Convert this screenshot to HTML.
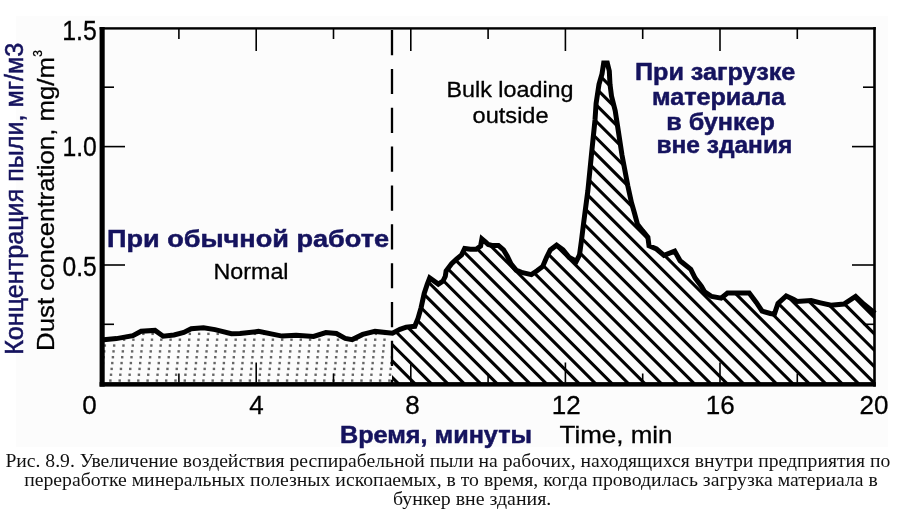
<!DOCTYPE html>
<html><head><meta charset="utf-8"><title>Dust concentration chart</title>
<style>html,body{margin:0;padding:0;background:#ffffff;}svg{display:block;}</style></head>
<body>
<svg width="913" height="512" viewBox="0 0 913 512">
<rect width="913" height="512" fill="#ffffff"/>
<rect x="16" y="16" width="872" height="431" fill="#fcfcfc"/>
<defs>
<clipPath id="cd"><polygon points="101.0,340.1 116.4,338.6 132.9,335.7 141.1,331.2 155.0,330.4 163.2,336.2 174.0,335.0 183.8,332.4 191.2,328.7 203.5,327.7 215.0,329.6 231.4,333.7 240.0,333.5 258.4,331.4 282.1,336.1 296.1,335.2 313.6,336.5 325.9,332.6 336.4,333.5 345.2,338.4 352.2,339.6 362.7,334.4 375.0,331.4 392.0,333.2 392.0,384.0 101.0,384.0"/></clipPath>
<clipPath id="ch"><polygon points="392.0,333.2 392.5,333.3 400.0,329.4 406.2,327.1 414.8,326.3 418.0,318.5 421.1,307.6 424.2,293.5 427.3,284.1 429.7,277.9 438.3,284.1 443.0,281.0 445.3,276.3 446.1,270.9 451.6,263.8 456.5,259.2 461.6,254.9 464.7,248.5 470.5,249.2 476.2,249.2 480.6,246.0 481.9,239.0 485.7,242.2 488.2,244.5 492.0,245.4 498.4,245.4 503.5,249.8 507.3,256.2 511.0,263.8 516.1,270.1 522.5,272.7 531.4,274.6 537.0,270.7 542.7,266.4 546.5,257.5 550.3,249.9 556.6,245.2 563.0,249.9 569.3,257.5 576.3,261.3 579.5,255.0 581.4,241.0 583.6,223.2 587.9,190.4 591.4,155.2 595.0,120.0 596.1,103.4 599.0,84.3 602.0,74.0 603.7,63.0 607.3,63.0 609.3,71.0 610.0,84.3 611.5,96.0 615.2,110.7 617.4,125.0 622.0,155.2 627.8,185.7 631.5,202.7 634.5,213.2 637.5,224.3 642.5,230.7 647.9,237.2 649.0,245.7 656.5,249.0 664.0,255.4 674.7,251.1 680.1,260.8 690.8,269.4 695.1,278.0 701.5,286.5 704.7,291.9 711.7,296.5 721.1,298.2 727.5,293.0 735.2,293.0 749.2,293.0 756.3,302.4 762.1,311.1 770.3,313.5 774.4,314.1 778.0,303.5 786.2,295.9 793.8,299.5 797.0,301.4 811.1,300.6 820.5,302.9 831.0,305.3 843.9,304.1 855.6,296.5 863.9,304.3 875.0,313.3 875.0,384.0 392.0,384.0"/></clipPath>
</defs>
<g clip-path="url(#cd)" fill="#666"><rect x="106.82" y="315.14" width="2.4" height="2.4"/><rect x="116.12" y="315.14" width="2.4" height="2.4"/><rect x="125.42" y="315.14" width="2.4" height="2.4"/><rect x="134.72" y="315.14" width="2.4" height="2.4"/><rect x="144.02" y="315.14" width="2.4" height="2.4"/><rect x="153.32" y="315.14" width="2.4" height="2.4"/><rect x="162.62" y="315.14" width="2.4" height="2.4"/><rect x="171.92" y="315.14" width="2.4" height="2.4"/><rect x="181.22" y="315.14" width="2.4" height="2.4"/><rect x="190.52" y="315.14" width="2.4" height="2.4"/><rect x="199.82" y="315.14" width="2.4" height="2.4"/><rect x="209.12" y="315.14" width="2.4" height="2.4"/><rect x="218.42" y="315.14" width="2.4" height="2.4"/><rect x="227.72" y="315.14" width="2.4" height="2.4"/><rect x="237.02" y="315.14" width="2.4" height="2.4"/><rect x="246.32" y="315.14" width="2.4" height="2.4"/><rect x="255.62" y="315.14" width="2.4" height="2.4"/><rect x="264.92" y="315.14" width="2.4" height="2.4"/><rect x="274.22" y="315.14" width="2.4" height="2.4"/><rect x="283.52" y="315.14" width="2.4" height="2.4"/><rect x="292.82" y="315.14" width="2.4" height="2.4"/><rect x="302.12" y="315.14" width="2.4" height="2.4"/><rect x="311.42" y="315.14" width="2.4" height="2.4"/><rect x="320.72" y="315.14" width="2.4" height="2.4"/><rect x="330.02" y="315.14" width="2.4" height="2.4"/><rect x="339.32" y="315.14" width="2.4" height="2.4"/><rect x="348.62" y="315.14" width="2.4" height="2.4"/><rect x="357.92" y="315.14" width="2.4" height="2.4"/><rect x="367.22" y="315.14" width="2.4" height="2.4"/><rect x="376.52" y="315.14" width="2.4" height="2.4"/><rect x="385.82" y="315.14" width="2.4" height="2.4"/><rect x="106.19" y="320.98" width="2.4" height="2.4"/><rect x="115.49" y="320.98" width="2.4" height="2.4"/><rect x="124.79" y="320.98" width="2.4" height="2.4"/><rect x="134.09" y="320.98" width="2.4" height="2.4"/><rect x="143.39" y="320.98" width="2.4" height="2.4"/><rect x="152.69" y="320.98" width="2.4" height="2.4"/><rect x="161.99" y="320.98" width="2.4" height="2.4"/><rect x="171.29" y="320.98" width="2.4" height="2.4"/><rect x="180.59" y="320.98" width="2.4" height="2.4"/><rect x="189.89" y="320.98" width="2.4" height="2.4"/><rect x="199.19" y="320.98" width="2.4" height="2.4"/><rect x="208.49" y="320.98" width="2.4" height="2.4"/><rect x="217.79" y="320.98" width="2.4" height="2.4"/><rect x="227.09" y="320.98" width="2.4" height="2.4"/><rect x="236.39" y="320.98" width="2.4" height="2.4"/><rect x="245.69" y="320.98" width="2.4" height="2.4"/><rect x="254.99" y="320.98" width="2.4" height="2.4"/><rect x="264.29" y="320.98" width="2.4" height="2.4"/><rect x="273.59" y="320.98" width="2.4" height="2.4"/><rect x="282.89" y="320.98" width="2.4" height="2.4"/><rect x="292.19" y="320.98" width="2.4" height="2.4"/><rect x="301.49" y="320.98" width="2.4" height="2.4"/><rect x="310.79" y="320.98" width="2.4" height="2.4"/><rect x="320.09" y="320.98" width="2.4" height="2.4"/><rect x="329.39" y="320.98" width="2.4" height="2.4"/><rect x="338.69" y="320.98" width="2.4" height="2.4"/><rect x="347.99" y="320.98" width="2.4" height="2.4"/><rect x="357.29" y="320.98" width="2.4" height="2.4"/><rect x="366.59" y="320.98" width="2.4" height="2.4"/><rect x="375.89" y="320.98" width="2.4" height="2.4"/><rect x="385.19" y="320.98" width="2.4" height="2.4"/><rect x="105.56" y="326.82" width="2.4" height="2.4"/><rect x="114.86" y="326.82" width="2.4" height="2.4"/><rect x="124.16" y="326.82" width="2.4" height="2.4"/><rect x="133.46" y="326.82" width="2.4" height="2.4"/><rect x="142.76" y="326.82" width="2.4" height="2.4"/><rect x="152.06" y="326.82" width="2.4" height="2.4"/><rect x="161.36" y="326.82" width="2.4" height="2.4"/><rect x="170.66" y="326.82" width="2.4" height="2.4"/><rect x="179.96" y="326.82" width="2.4" height="2.4"/><rect x="189.26" y="326.82" width="2.4" height="2.4"/><rect x="198.56" y="326.82" width="2.4" height="2.4"/><rect x="207.86" y="326.82" width="2.4" height="2.4"/><rect x="217.16" y="326.82" width="2.4" height="2.4"/><rect x="226.46" y="326.82" width="2.4" height="2.4"/><rect x="235.76" y="326.82" width="2.4" height="2.4"/><rect x="245.06" y="326.82" width="2.4" height="2.4"/><rect x="254.36" y="326.82" width="2.4" height="2.4"/><rect x="263.66" y="326.82" width="2.4" height="2.4"/><rect x="272.96" y="326.82" width="2.4" height="2.4"/><rect x="282.26" y="326.82" width="2.4" height="2.4"/><rect x="291.56" y="326.82" width="2.4" height="2.4"/><rect x="300.86" y="326.82" width="2.4" height="2.4"/><rect x="310.16" y="326.82" width="2.4" height="2.4"/><rect x="319.46" y="326.82" width="2.4" height="2.4"/><rect x="328.76" y="326.82" width="2.4" height="2.4"/><rect x="338.06" y="326.82" width="2.4" height="2.4"/><rect x="347.36" y="326.82" width="2.4" height="2.4"/><rect x="356.66" y="326.82" width="2.4" height="2.4"/><rect x="365.96" y="326.82" width="2.4" height="2.4"/><rect x="375.26" y="326.82" width="2.4" height="2.4"/><rect x="384.56" y="326.82" width="2.4" height="2.4"/><rect x="104.93" y="332.66" width="2.4" height="2.4"/><rect x="114.23" y="332.66" width="2.4" height="2.4"/><rect x="123.53" y="332.66" width="2.4" height="2.4"/><rect x="132.83" y="332.66" width="2.4" height="2.4"/><rect x="142.13" y="332.66" width="2.4" height="2.4"/><rect x="151.43" y="332.66" width="2.4" height="2.4"/><rect x="160.73" y="332.66" width="2.4" height="2.4"/><rect x="170.03" y="332.66" width="2.4" height="2.4"/><rect x="179.33" y="332.66" width="2.4" height="2.4"/><rect x="188.63" y="332.66" width="2.4" height="2.4"/><rect x="197.93" y="332.66" width="2.4" height="2.4"/><rect x="207.23" y="332.66" width="2.4" height="2.4"/><rect x="216.53" y="332.66" width="2.4" height="2.4"/><rect x="225.83" y="332.66" width="2.4" height="2.4"/><rect x="235.13" y="332.66" width="2.4" height="2.4"/><rect x="244.43" y="332.66" width="2.4" height="2.4"/><rect x="253.73" y="332.66" width="2.4" height="2.4"/><rect x="263.03" y="332.66" width="2.4" height="2.4"/><rect x="272.33" y="332.66" width="2.4" height="2.4"/><rect x="281.63" y="332.66" width="2.4" height="2.4"/><rect x="290.93" y="332.66" width="2.4" height="2.4"/><rect x="300.23" y="332.66" width="2.4" height="2.4"/><rect x="309.53" y="332.66" width="2.4" height="2.4"/><rect x="318.83" y="332.66" width="2.4" height="2.4"/><rect x="328.13" y="332.66" width="2.4" height="2.4"/><rect x="337.43" y="332.66" width="2.4" height="2.4"/><rect x="346.73" y="332.66" width="2.4" height="2.4"/><rect x="356.03" y="332.66" width="2.4" height="2.4"/><rect x="365.33" y="332.66" width="2.4" height="2.4"/><rect x="374.63" y="332.66" width="2.4" height="2.4"/><rect x="383.93" y="332.66" width="2.4" height="2.4"/><rect x="104.30" y="338.50" width="2.4" height="2.4"/><rect x="113.60" y="338.50" width="2.4" height="2.4"/><rect x="122.90" y="338.50" width="2.4" height="2.4"/><rect x="132.20" y="338.50" width="2.4" height="2.4"/><rect x="141.50" y="338.50" width="2.4" height="2.4"/><rect x="150.80" y="338.50" width="2.4" height="2.4"/><rect x="160.10" y="338.50" width="2.4" height="2.4"/><rect x="169.40" y="338.50" width="2.4" height="2.4"/><rect x="178.70" y="338.50" width="2.4" height="2.4"/><rect x="188.00" y="338.50" width="2.4" height="2.4"/><rect x="197.30" y="338.50" width="2.4" height="2.4"/><rect x="206.60" y="338.50" width="2.4" height="2.4"/><rect x="215.90" y="338.50" width="2.4" height="2.4"/><rect x="225.20" y="338.50" width="2.4" height="2.4"/><rect x="234.50" y="338.50" width="2.4" height="2.4"/><rect x="243.80" y="338.50" width="2.4" height="2.4"/><rect x="253.10" y="338.50" width="2.4" height="2.4"/><rect x="262.40" y="338.50" width="2.4" height="2.4"/><rect x="271.70" y="338.50" width="2.4" height="2.4"/><rect x="281.00" y="338.50" width="2.4" height="2.4"/><rect x="290.30" y="338.50" width="2.4" height="2.4"/><rect x="299.60" y="338.50" width="2.4" height="2.4"/><rect x="308.90" y="338.50" width="2.4" height="2.4"/><rect x="318.20" y="338.50" width="2.4" height="2.4"/><rect x="327.50" y="338.50" width="2.4" height="2.4"/><rect x="336.80" y="338.50" width="2.4" height="2.4"/><rect x="346.10" y="338.50" width="2.4" height="2.4"/><rect x="355.40" y="338.50" width="2.4" height="2.4"/><rect x="364.70" y="338.50" width="2.4" height="2.4"/><rect x="374.00" y="338.50" width="2.4" height="2.4"/><rect x="383.30" y="338.50" width="2.4" height="2.4"/><rect x="103.67" y="344.34" width="2.4" height="2.4"/><rect x="112.97" y="344.34" width="2.4" height="2.4"/><rect x="122.27" y="344.34" width="2.4" height="2.4"/><rect x="131.57" y="344.34" width="2.4" height="2.4"/><rect x="140.87" y="344.34" width="2.4" height="2.4"/><rect x="150.17" y="344.34" width="2.4" height="2.4"/><rect x="159.47" y="344.34" width="2.4" height="2.4"/><rect x="168.77" y="344.34" width="2.4" height="2.4"/><rect x="178.07" y="344.34" width="2.4" height="2.4"/><rect x="187.37" y="344.34" width="2.4" height="2.4"/><rect x="196.67" y="344.34" width="2.4" height="2.4"/><rect x="205.97" y="344.34" width="2.4" height="2.4"/><rect x="215.27" y="344.34" width="2.4" height="2.4"/><rect x="224.57" y="344.34" width="2.4" height="2.4"/><rect x="233.87" y="344.34" width="2.4" height="2.4"/><rect x="243.17" y="344.34" width="2.4" height="2.4"/><rect x="252.47" y="344.34" width="2.4" height="2.4"/><rect x="261.77" y="344.34" width="2.4" height="2.4"/><rect x="271.07" y="344.34" width="2.4" height="2.4"/><rect x="280.37" y="344.34" width="2.4" height="2.4"/><rect x="289.67" y="344.34" width="2.4" height="2.4"/><rect x="298.97" y="344.34" width="2.4" height="2.4"/><rect x="308.27" y="344.34" width="2.4" height="2.4"/><rect x="317.57" y="344.34" width="2.4" height="2.4"/><rect x="326.87" y="344.34" width="2.4" height="2.4"/><rect x="336.17" y="344.34" width="2.4" height="2.4"/><rect x="345.47" y="344.34" width="2.4" height="2.4"/><rect x="354.77" y="344.34" width="2.4" height="2.4"/><rect x="364.07" y="344.34" width="2.4" height="2.4"/><rect x="373.37" y="344.34" width="2.4" height="2.4"/><rect x="382.67" y="344.34" width="2.4" height="2.4"/><rect x="103.04" y="350.18" width="2.4" height="2.4"/><rect x="112.34" y="350.18" width="2.4" height="2.4"/><rect x="121.64" y="350.18" width="2.4" height="2.4"/><rect x="130.94" y="350.18" width="2.4" height="2.4"/><rect x="140.24" y="350.18" width="2.4" height="2.4"/><rect x="149.54" y="350.18" width="2.4" height="2.4"/><rect x="158.84" y="350.18" width="2.4" height="2.4"/><rect x="168.14" y="350.18" width="2.4" height="2.4"/><rect x="177.44" y="350.18" width="2.4" height="2.4"/><rect x="186.74" y="350.18" width="2.4" height="2.4"/><rect x="196.04" y="350.18" width="2.4" height="2.4"/><rect x="205.34" y="350.18" width="2.4" height="2.4"/><rect x="214.64" y="350.18" width="2.4" height="2.4"/><rect x="223.94" y="350.18" width="2.4" height="2.4"/><rect x="233.24" y="350.18" width="2.4" height="2.4"/><rect x="242.54" y="350.18" width="2.4" height="2.4"/><rect x="251.84" y="350.18" width="2.4" height="2.4"/><rect x="261.14" y="350.18" width="2.4" height="2.4"/><rect x="270.44" y="350.18" width="2.4" height="2.4"/><rect x="279.74" y="350.18" width="2.4" height="2.4"/><rect x="289.04" y="350.18" width="2.4" height="2.4"/><rect x="298.34" y="350.18" width="2.4" height="2.4"/><rect x="307.64" y="350.18" width="2.4" height="2.4"/><rect x="316.94" y="350.18" width="2.4" height="2.4"/><rect x="326.24" y="350.18" width="2.4" height="2.4"/><rect x="335.54" y="350.18" width="2.4" height="2.4"/><rect x="344.84" y="350.18" width="2.4" height="2.4"/><rect x="354.14" y="350.18" width="2.4" height="2.4"/><rect x="363.44" y="350.18" width="2.4" height="2.4"/><rect x="372.74" y="350.18" width="2.4" height="2.4"/><rect x="382.04" y="350.18" width="2.4" height="2.4"/><rect x="102.41" y="356.02" width="2.4" height="2.4"/><rect x="111.71" y="356.02" width="2.4" height="2.4"/><rect x="121.01" y="356.02" width="2.4" height="2.4"/><rect x="130.31" y="356.02" width="2.4" height="2.4"/><rect x="139.61" y="356.02" width="2.4" height="2.4"/><rect x="148.91" y="356.02" width="2.4" height="2.4"/><rect x="158.21" y="356.02" width="2.4" height="2.4"/><rect x="167.51" y="356.02" width="2.4" height="2.4"/><rect x="176.81" y="356.02" width="2.4" height="2.4"/><rect x="186.11" y="356.02" width="2.4" height="2.4"/><rect x="195.41" y="356.02" width="2.4" height="2.4"/><rect x="204.71" y="356.02" width="2.4" height="2.4"/><rect x="214.01" y="356.02" width="2.4" height="2.4"/><rect x="223.31" y="356.02" width="2.4" height="2.4"/><rect x="232.61" y="356.02" width="2.4" height="2.4"/><rect x="241.91" y="356.02" width="2.4" height="2.4"/><rect x="251.21" y="356.02" width="2.4" height="2.4"/><rect x="260.51" y="356.02" width="2.4" height="2.4"/><rect x="269.81" y="356.02" width="2.4" height="2.4"/><rect x="279.11" y="356.02" width="2.4" height="2.4"/><rect x="288.41" y="356.02" width="2.4" height="2.4"/><rect x="297.71" y="356.02" width="2.4" height="2.4"/><rect x="307.01" y="356.02" width="2.4" height="2.4"/><rect x="316.31" y="356.02" width="2.4" height="2.4"/><rect x="325.61" y="356.02" width="2.4" height="2.4"/><rect x="334.91" y="356.02" width="2.4" height="2.4"/><rect x="344.21" y="356.02" width="2.4" height="2.4"/><rect x="353.51" y="356.02" width="2.4" height="2.4"/><rect x="362.81" y="356.02" width="2.4" height="2.4"/><rect x="372.11" y="356.02" width="2.4" height="2.4"/><rect x="381.41" y="356.02" width="2.4" height="2.4"/><rect x="390.71" y="356.02" width="2.4" height="2.4"/><rect x="101.78" y="361.86" width="2.4" height="2.4"/><rect x="111.08" y="361.86" width="2.4" height="2.4"/><rect x="120.38" y="361.86" width="2.4" height="2.4"/><rect x="129.68" y="361.86" width="2.4" height="2.4"/><rect x="138.98" y="361.86" width="2.4" height="2.4"/><rect x="148.28" y="361.86" width="2.4" height="2.4"/><rect x="157.58" y="361.86" width="2.4" height="2.4"/><rect x="166.88" y="361.86" width="2.4" height="2.4"/><rect x="176.18" y="361.86" width="2.4" height="2.4"/><rect x="185.48" y="361.86" width="2.4" height="2.4"/><rect x="194.78" y="361.86" width="2.4" height="2.4"/><rect x="204.08" y="361.86" width="2.4" height="2.4"/><rect x="213.38" y="361.86" width="2.4" height="2.4"/><rect x="222.68" y="361.86" width="2.4" height="2.4"/><rect x="231.98" y="361.86" width="2.4" height="2.4"/><rect x="241.28" y="361.86" width="2.4" height="2.4"/><rect x="250.58" y="361.86" width="2.4" height="2.4"/><rect x="259.88" y="361.86" width="2.4" height="2.4"/><rect x="269.18" y="361.86" width="2.4" height="2.4"/><rect x="278.48" y="361.86" width="2.4" height="2.4"/><rect x="287.78" y="361.86" width="2.4" height="2.4"/><rect x="297.08" y="361.86" width="2.4" height="2.4"/><rect x="306.38" y="361.86" width="2.4" height="2.4"/><rect x="315.68" y="361.86" width="2.4" height="2.4"/><rect x="324.98" y="361.86" width="2.4" height="2.4"/><rect x="334.28" y="361.86" width="2.4" height="2.4"/><rect x="343.58" y="361.86" width="2.4" height="2.4"/><rect x="352.88" y="361.86" width="2.4" height="2.4"/><rect x="362.18" y="361.86" width="2.4" height="2.4"/><rect x="371.48" y="361.86" width="2.4" height="2.4"/><rect x="380.78" y="361.86" width="2.4" height="2.4"/><rect x="390.08" y="361.86" width="2.4" height="2.4"/><rect x="101.15" y="367.70" width="2.4" height="2.4"/><rect x="110.45" y="367.70" width="2.4" height="2.4"/><rect x="119.75" y="367.70" width="2.4" height="2.4"/><rect x="129.05" y="367.70" width="2.4" height="2.4"/><rect x="138.35" y="367.70" width="2.4" height="2.4"/><rect x="147.65" y="367.70" width="2.4" height="2.4"/><rect x="156.95" y="367.70" width="2.4" height="2.4"/><rect x="166.25" y="367.70" width="2.4" height="2.4"/><rect x="175.55" y="367.70" width="2.4" height="2.4"/><rect x="184.85" y="367.70" width="2.4" height="2.4"/><rect x="194.15" y="367.70" width="2.4" height="2.4"/><rect x="203.45" y="367.70" width="2.4" height="2.4"/><rect x="212.75" y="367.70" width="2.4" height="2.4"/><rect x="222.05" y="367.70" width="2.4" height="2.4"/><rect x="231.35" y="367.70" width="2.4" height="2.4"/><rect x="240.65" y="367.70" width="2.4" height="2.4"/><rect x="249.95" y="367.70" width="2.4" height="2.4"/><rect x="259.25" y="367.70" width="2.4" height="2.4"/><rect x="268.55" y="367.70" width="2.4" height="2.4"/><rect x="277.85" y="367.70" width="2.4" height="2.4"/><rect x="287.15" y="367.70" width="2.4" height="2.4"/><rect x="296.45" y="367.70" width="2.4" height="2.4"/><rect x="305.75" y="367.70" width="2.4" height="2.4"/><rect x="315.05" y="367.70" width="2.4" height="2.4"/><rect x="324.35" y="367.70" width="2.4" height="2.4"/><rect x="333.65" y="367.70" width="2.4" height="2.4"/><rect x="342.95" y="367.70" width="2.4" height="2.4"/><rect x="352.25" y="367.70" width="2.4" height="2.4"/><rect x="361.55" y="367.70" width="2.4" height="2.4"/><rect x="370.85" y="367.70" width="2.4" height="2.4"/><rect x="380.15" y="367.70" width="2.4" height="2.4"/><rect x="389.45" y="367.70" width="2.4" height="2.4"/><rect x="100.52" y="373.54" width="2.4" height="2.4"/><rect x="109.82" y="373.54" width="2.4" height="2.4"/><rect x="119.12" y="373.54" width="2.4" height="2.4"/><rect x="128.42" y="373.54" width="2.4" height="2.4"/><rect x="137.72" y="373.54" width="2.4" height="2.4"/><rect x="147.02" y="373.54" width="2.4" height="2.4"/><rect x="156.32" y="373.54" width="2.4" height="2.4"/><rect x="165.62" y="373.54" width="2.4" height="2.4"/><rect x="174.92" y="373.54" width="2.4" height="2.4"/><rect x="184.22" y="373.54" width="2.4" height="2.4"/><rect x="193.52" y="373.54" width="2.4" height="2.4"/><rect x="202.82" y="373.54" width="2.4" height="2.4"/><rect x="212.12" y="373.54" width="2.4" height="2.4"/><rect x="221.42" y="373.54" width="2.4" height="2.4"/><rect x="230.72" y="373.54" width="2.4" height="2.4"/><rect x="240.02" y="373.54" width="2.4" height="2.4"/><rect x="249.32" y="373.54" width="2.4" height="2.4"/><rect x="258.62" y="373.54" width="2.4" height="2.4"/><rect x="267.92" y="373.54" width="2.4" height="2.4"/><rect x="277.22" y="373.54" width="2.4" height="2.4"/><rect x="286.52" y="373.54" width="2.4" height="2.4"/><rect x="295.82" y="373.54" width="2.4" height="2.4"/><rect x="305.12" y="373.54" width="2.4" height="2.4"/><rect x="314.42" y="373.54" width="2.4" height="2.4"/><rect x="323.72" y="373.54" width="2.4" height="2.4"/><rect x="333.02" y="373.54" width="2.4" height="2.4"/><rect x="342.32" y="373.54" width="2.4" height="2.4"/><rect x="351.62" y="373.54" width="2.4" height="2.4"/><rect x="360.92" y="373.54" width="2.4" height="2.4"/><rect x="370.22" y="373.54" width="2.4" height="2.4"/><rect x="379.52" y="373.54" width="2.4" height="2.4"/><rect x="388.82" y="373.54" width="2.4" height="2.4"/><rect x="99.88" y="379.38" width="2.4" height="2.4"/><rect x="109.18" y="379.38" width="2.4" height="2.4"/><rect x="118.48" y="379.38" width="2.4" height="2.4"/><rect x="127.78" y="379.38" width="2.4" height="2.4"/><rect x="137.08" y="379.38" width="2.4" height="2.4"/><rect x="146.38" y="379.38" width="2.4" height="2.4"/><rect x="155.68" y="379.38" width="2.4" height="2.4"/><rect x="164.98" y="379.38" width="2.4" height="2.4"/><rect x="174.28" y="379.38" width="2.4" height="2.4"/><rect x="183.58" y="379.38" width="2.4" height="2.4"/><rect x="192.88" y="379.38" width="2.4" height="2.4"/><rect x="202.18" y="379.38" width="2.4" height="2.4"/><rect x="211.48" y="379.38" width="2.4" height="2.4"/><rect x="220.78" y="379.38" width="2.4" height="2.4"/><rect x="230.08" y="379.38" width="2.4" height="2.4"/><rect x="239.38" y="379.38" width="2.4" height="2.4"/><rect x="248.68" y="379.38" width="2.4" height="2.4"/><rect x="257.98" y="379.38" width="2.4" height="2.4"/><rect x="267.28" y="379.38" width="2.4" height="2.4"/><rect x="276.58" y="379.38" width="2.4" height="2.4"/><rect x="285.88" y="379.38" width="2.4" height="2.4"/><rect x="295.18" y="379.38" width="2.4" height="2.4"/><rect x="304.48" y="379.38" width="2.4" height="2.4"/><rect x="313.78" y="379.38" width="2.4" height="2.4"/><rect x="323.08" y="379.38" width="2.4" height="2.4"/><rect x="332.38" y="379.38" width="2.4" height="2.4"/><rect x="341.68" y="379.38" width="2.4" height="2.4"/><rect x="350.98" y="379.38" width="2.4" height="2.4"/><rect x="360.28" y="379.38" width="2.4" height="2.4"/><rect x="369.58" y="379.38" width="2.4" height="2.4"/><rect x="378.88" y="379.38" width="2.4" height="2.4"/><rect x="388.18" y="379.38" width="2.4" height="2.4"/></g>
<g clip-path="url(#ch)" stroke="#000" stroke-width="3.1"><line x1="-602.40" y1="40" x2="-252.40" y2="390"/><line x1="-585.97" y1="40" x2="-235.97" y2="390"/><line x1="-569.54" y1="40" x2="-219.54" y2="390"/><line x1="-553.11" y1="40" x2="-203.11" y2="390"/><line x1="-536.68" y1="40" x2="-186.68" y2="390"/><line x1="-520.25" y1="40" x2="-170.25" y2="390"/><line x1="-503.82" y1="40" x2="-153.82" y2="390"/><line x1="-487.39" y1="40" x2="-137.39" y2="390"/><line x1="-470.96" y1="40" x2="-120.96" y2="390"/><line x1="-454.53" y1="40" x2="-104.53" y2="390"/><line x1="-438.10" y1="40" x2="-88.10" y2="390"/><line x1="-421.67" y1="40" x2="-71.67" y2="390"/><line x1="-405.24" y1="40" x2="-55.24" y2="390"/><line x1="-388.81" y1="40" x2="-38.81" y2="390"/><line x1="-372.38" y1="40" x2="-22.38" y2="390"/><line x1="-355.95" y1="40" x2="-5.95" y2="390"/><line x1="-339.52" y1="40" x2="10.48" y2="390"/><line x1="-323.09" y1="40" x2="26.91" y2="390"/><line x1="-306.66" y1="40" x2="43.34" y2="390"/><line x1="-290.23" y1="40" x2="59.77" y2="390"/><line x1="-273.80" y1="40" x2="76.20" y2="390"/><line x1="-257.37" y1="40" x2="92.63" y2="390"/><line x1="-240.94" y1="40" x2="109.06" y2="390"/><line x1="-224.51" y1="40" x2="125.49" y2="390"/><line x1="-208.08" y1="40" x2="141.92" y2="390"/><line x1="-191.65" y1="40" x2="158.35" y2="390"/><line x1="-175.22" y1="40" x2="174.78" y2="390"/><line x1="-158.79" y1="40" x2="191.21" y2="390"/><line x1="-142.36" y1="40" x2="207.64" y2="390"/><line x1="-125.93" y1="40" x2="224.07" y2="390"/><line x1="-109.50" y1="40" x2="240.50" y2="390"/><line x1="-93.07" y1="40" x2="256.93" y2="390"/><line x1="-76.64" y1="40" x2="273.36" y2="390"/><line x1="-60.21" y1="40" x2="289.79" y2="390"/><line x1="-43.78" y1="40" x2="306.22" y2="390"/><line x1="-27.35" y1="40" x2="322.65" y2="390"/><line x1="-10.92" y1="40" x2="339.08" y2="390"/><line x1="5.51" y1="40" x2="355.51" y2="390"/><line x1="21.94" y1="40" x2="371.94" y2="390"/><line x1="38.37" y1="40" x2="388.37" y2="390"/><line x1="54.80" y1="40" x2="404.80" y2="390"/><line x1="71.23" y1="40" x2="421.23" y2="390"/><line x1="87.66" y1="40" x2="437.66" y2="390"/><line x1="104.09" y1="40" x2="454.09" y2="390"/><line x1="120.52" y1="40" x2="470.52" y2="390"/><line x1="136.95" y1="40" x2="486.95" y2="390"/><line x1="153.38" y1="40" x2="503.38" y2="390"/><line x1="169.81" y1="40" x2="519.81" y2="390"/><line x1="186.24" y1="40" x2="536.24" y2="390"/><line x1="202.67" y1="40" x2="552.67" y2="390"/><line x1="219.10" y1="40" x2="569.10" y2="390"/><line x1="235.53" y1="40" x2="585.53" y2="390"/><line x1="251.96" y1="40" x2="601.96" y2="390"/><line x1="268.39" y1="40" x2="618.39" y2="390"/><line x1="284.82" y1="40" x2="634.82" y2="390"/><line x1="301.25" y1="40" x2="651.25" y2="390"/><line x1="317.68" y1="40" x2="667.68" y2="390"/><line x1="334.11" y1="40" x2="684.11" y2="390"/><line x1="350.54" y1="40" x2="700.54" y2="390"/><line x1="366.97" y1="40" x2="716.97" y2="390"/><line x1="383.40" y1="40" x2="733.40" y2="390"/><line x1="399.83" y1="40" x2="749.83" y2="390"/><line x1="416.26" y1="40" x2="766.26" y2="390"/><line x1="432.69" y1="40" x2="782.69" y2="390"/><line x1="449.12" y1="40" x2="799.12" y2="390"/><line x1="465.55" y1="40" x2="815.55" y2="390"/><line x1="481.98" y1="40" x2="831.98" y2="390"/><line x1="498.41" y1="40" x2="848.41" y2="390"/><line x1="514.84" y1="40" x2="864.84" y2="390"/><line x1="531.27" y1="40" x2="881.27" y2="390"/><line x1="547.70" y1="40" x2="897.70" y2="390"/><line x1="564.13" y1="40" x2="914.13" y2="390"/><line x1="580.56" y1="40" x2="930.56" y2="390"/><line x1="596.99" y1="40" x2="946.99" y2="390"/><line x1="613.42" y1="40" x2="963.42" y2="390"/><line x1="629.85" y1="40" x2="979.85" y2="390"/><line x1="646.28" y1="40" x2="996.28" y2="390"/><line x1="662.71" y1="40" x2="1012.71" y2="390"/><line x1="679.14" y1="40" x2="1029.14" y2="390"/><line x1="695.57" y1="40" x2="1045.57" y2="390"/><line x1="712.00" y1="40" x2="1062.00" y2="390"/><line x1="728.43" y1="40" x2="1078.43" y2="390"/><line x1="744.86" y1="40" x2="1094.86" y2="390"/><line x1="761.29" y1="40" x2="1111.29" y2="390"/><line x1="777.72" y1="40" x2="1127.72" y2="390"/><line x1="794.15" y1="40" x2="1144.15" y2="390"/><line x1="810.58" y1="40" x2="1160.58" y2="390"/><line x1="827.01" y1="40" x2="1177.01" y2="390"/><line x1="843.44" y1="40" x2="1193.44" y2="390"/><line x1="859.87" y1="40" x2="1209.87" y2="390"/><line x1="876.30" y1="40" x2="1226.30" y2="390"/><line x1="892.73" y1="40" x2="1242.73" y2="390"/><line x1="909.16" y1="40" x2="1259.16" y2="390"/><line x1="925.59" y1="40" x2="1275.59" y2="390"/></g>
<polyline points="101.0,340.1 116.4,338.6 132.9,335.7 141.1,331.2 155.0,330.4 163.2,336.2 174.0,335.0 183.8,332.4 191.2,328.7 203.5,327.7 215.0,329.6 231.4,333.7 240.0,333.5 258.4,331.4 282.1,336.1 296.1,335.2 313.6,336.5 325.9,332.6 336.4,333.5 345.2,338.4 352.2,339.6 362.7,334.4 375.0,331.4 392.5,333.3 400.0,329.4 406.2,327.1 414.8,326.3 418.0,318.5 421.1,307.6 424.2,293.5 427.3,284.1 429.7,277.9 438.3,284.1 443.0,281.0 445.3,276.3 446.1,270.9 451.6,263.8 456.5,259.2 461.6,254.9 464.7,248.5 470.5,249.2 476.2,249.2 480.6,246.0 481.9,239.0 485.7,242.2 488.2,244.5 492.0,245.4 498.4,245.4 503.5,249.8 507.3,256.2 511.0,263.8 516.1,270.1 522.5,272.7 531.4,274.6 537.0,270.7 542.7,266.4 546.5,257.5 550.3,249.9 556.6,245.2 563.0,249.9 569.3,257.5 576.3,261.3 579.5,255.0 581.4,241.0 583.6,223.2 587.9,190.4 591.4,155.2 595.0,120.0 596.1,103.4 599.0,84.3 602.0,74.0 603.7,63.0 607.3,63.0 609.3,71.0 610.0,84.3 611.5,96.0 615.2,110.7 617.4,125.0 622.0,155.2 627.8,185.7 631.5,202.7 634.5,213.2 637.5,224.3 642.5,230.7 647.9,237.2 649.0,245.7 656.5,249.0 664.0,255.4 674.7,251.1 680.1,260.8 690.8,269.4 695.1,278.0 701.5,286.5 704.7,291.9 711.7,296.5 721.1,298.2 727.5,293.0 735.2,293.0 749.2,293.0 756.3,302.4 762.1,311.1 770.3,313.5 774.4,314.1 778.0,303.5 786.2,295.9 793.8,299.5 797.0,301.4 811.1,300.6 820.5,302.9 831.0,305.3 843.9,304.1 855.6,296.5 863.9,304.3 875.0,313.3" fill="none" stroke="#000" stroke-width="5" stroke-linejoin="miter" stroke-miterlimit="3"/>
<line x1="392.0" y1="30.05" x2="392.0" y2="384" stroke="#000" stroke-width="2.3" stroke-dasharray="25.2 13.65"/>
<g fill="#000">
<rect x="99.6" y="27" width="5.1" height="359.6"/>
<rect x="99.6" y="382.1" width="776.2" height="4.5"/>
<rect x="99.6" y="27.2" width="776.2" height="2.4"/>
<rect x="873.2" y="27" width="2.6" height="359.6"/>
</g>
<g stroke="#000" stroke-width="1.6"><line x1="178.9" y1="29" x2="178.9" y2="39"/><line x1="178.9" y1="382.5" x2="178.9" y2="373.5"/><line x1="256.2" y1="29" x2="256.2" y2="51"/><line x1="256.2" y1="382.5" x2="256.2" y2="362.5"/><line x1="333.5" y1="29" x2="333.5" y2="39"/><line x1="333.5" y1="382.5" x2="333.5" y2="373.5"/><line x1="410.8" y1="29" x2="410.8" y2="51"/><line x1="410.8" y1="382.5" x2="410.8" y2="362.5"/><line x1="488.1" y1="29" x2="488.1" y2="39"/><line x1="488.1" y1="382.5" x2="488.1" y2="373.5"/><line x1="565.4" y1="29" x2="565.4" y2="51"/><line x1="565.4" y1="382.5" x2="565.4" y2="362.5"/><line x1="642.7" y1="29" x2="642.7" y2="39"/><line x1="642.7" y1="382.5" x2="642.7" y2="373.5"/><line x1="720.0" y1="29" x2="720.0" y2="51"/><line x1="720.0" y1="382.5" x2="720.0" y2="362.5"/><line x1="797.3" y1="29" x2="797.3" y2="39"/><line x1="797.3" y1="382.5" x2="797.3" y2="373.5"/><line x1="104" y1="87.2" x2="114" y2="87.2"/><line x1="874" y1="87.2" x2="863" y2="87.2"/><line x1="104" y1="146.6" x2="125" y2="146.6"/><line x1="874" y1="146.6" x2="852" y2="146.6"/><line x1="104" y1="265.0" x2="125" y2="265.0"/><line x1="874" y1="265.0" x2="852" y2="265.0"/><line x1="104" y1="324.3" x2="114" y2="324.3"/><line x1="874" y1="324.3" x2="863" y2="324.3"/></g>
<text x="96.8" y="39.6" font-family="'Liberation Sans', Arial, sans-serif" font-size="27" font-weight="400" fill="#000"  stroke="#000" stroke-width="0.3" text-anchor="end" textLength="34.6" lengthAdjust="spacingAndGlyphs">1.5</text>
<text x="96.8" y="156" font-family="'Liberation Sans', Arial, sans-serif" font-size="27" font-weight="400" fill="#000"  stroke="#000" stroke-width="0.3" text-anchor="end" textLength="34.4" lengthAdjust="spacingAndGlyphs">1.0</text>
<text x="96.8" y="276.2" font-family="'Liberation Sans', Arial, sans-serif" font-size="27" font-weight="400" fill="#000"  stroke="#000" stroke-width="0.3" text-anchor="end" textLength="34.2" lengthAdjust="spacingAndGlyphs">0.5</text>
<text x="89.5" y="413.5" font-family="'Liberation Sans', Arial, sans-serif" font-size="26" font-weight="400" fill="#000"  stroke="#000" stroke-width="0.3" text-anchor="middle">0</text>
<text x="256.6" y="413.5" font-family="'Liberation Sans', Arial, sans-serif" font-size="26" font-weight="400" fill="#000"  stroke="#000" stroke-width="0.3" text-anchor="middle">4</text>
<text x="412.6" y="413.5" font-family="'Liberation Sans', Arial, sans-serif" font-size="26" font-weight="400" fill="#000"  stroke="#000" stroke-width="0.3" text-anchor="middle">8</text>
<text x="566.2" y="413.5" font-family="'Liberation Sans', Arial, sans-serif" font-size="26" font-weight="400" fill="#000"  stroke="#000" stroke-width="0.3" text-anchor="middle">12</text>
<text x="720.2" y="413.5" font-family="'Liberation Sans', Arial, sans-serif" font-size="26" font-weight="400" fill="#000"  stroke="#000" stroke-width="0.3" text-anchor="middle">16</text>
<text x="874" y="413.5" font-family="'Liberation Sans', Arial, sans-serif" font-size="26" font-weight="400" fill="#000"  stroke="#000" stroke-width="0.3" text-anchor="middle">20</text>
<text x="446.5" y="97" font-family="'Liberation Sans', Arial, sans-serif" font-size="22" font-weight="400" fill="#000"  stroke="#000" stroke-width="0.3" text-anchor="start" textLength="127" lengthAdjust="spacingAndGlyphs">Bulk loading</text>
<text x="472.6" y="122.7" font-family="'Liberation Sans', Arial, sans-serif" font-size="22" font-weight="400" fill="#000"  stroke="#000" stroke-width="0.3" text-anchor="start" textLength="76" lengthAdjust="spacingAndGlyphs">outside</text>
<text x="213.5" y="279" font-family="'Liberation Sans', Arial, sans-serif" font-size="22" font-weight="400" fill="#000"  stroke="#000" stroke-width="0.3" text-anchor="start" textLength="75" lengthAdjust="spacingAndGlyphs">Normal</text>
<text x="107" y="247.1" font-family="'Liberation Sans', Arial, sans-serif" font-size="24" font-weight="700" fill="#15135e"  stroke="#15135e" stroke-width="0.5" text-anchor="start" textLength="282" lengthAdjust="spacingAndGlyphs">При обычной работе</text>
<text x="635" y="80" font-family="'Liberation Sans', Arial, sans-serif" font-size="24" font-weight="700" fill="#15135e"  stroke="#15135e" stroke-width="0.5" text-anchor="start" textLength="160.2" lengthAdjust="spacingAndGlyphs">При загрузке</text>
<text x="651.9" y="104.9" font-family="'Liberation Sans', Arial, sans-serif" font-size="24" font-weight="700" fill="#15135e"  stroke="#15135e" stroke-width="0.5" text-anchor="start" textLength="133.4" lengthAdjust="spacingAndGlyphs">материала</text>
<text x="666.2" y="129.6" font-family="'Liberation Sans', Arial, sans-serif" font-size="24" font-weight="700" fill="#15135e"  stroke="#15135e" stroke-width="0.5" text-anchor="start" textLength="108.8" lengthAdjust="spacingAndGlyphs">в бункер</text>
<text x="656.4" y="153.4" font-family="'Liberation Sans', Arial, sans-serif" font-size="24" font-weight="700" fill="#15135e"  stroke="#15135e" stroke-width="0.5" text-anchor="start" textLength="135.9" lengthAdjust="spacingAndGlyphs">вне здания</text>
<text x="340" y="442.6" font-family="'Liberation Sans', Arial, sans-serif" font-size="24" font-weight="700" fill="#15135e"  stroke="#15135e" stroke-width="0.5" text-anchor="start" textLength="192" lengthAdjust="spacingAndGlyphs">Время, минуты</text>
<text x="559.5" y="443.3" font-family="'Liberation Sans', Arial, sans-serif" font-size="24" font-weight="400" fill="#000"  stroke="#000" stroke-width="0.3" text-anchor="start" textLength="113" lengthAdjust="spacingAndGlyphs">Time, min</text>
<g transform="translate(23.4,354.8) rotate(-90)"><text x="0" y="0" font-family="'Liberation Sans', Arial, sans-serif" font-size="25" font-weight="400" fill="#15135e"  stroke="#15135e" stroke-width="0.5" text-anchor="start" textLength="312" lengthAdjust="spacingAndGlyphs">Концентрация пыли, мг/м3</text></g>
<g transform="translate(53.9,351) rotate(-90)"><text x="0" y="0" font-family="'Liberation Sans', Arial, sans-serif" font-size="24.5" font-weight="400" fill="#000"  stroke="#000" stroke-width="0.3" text-anchor="start" textLength="294" lengthAdjust="spacingAndGlyphs">Dust concentration, mg/m</text></g>
<g transform="translate(41.9,56.7) rotate(-90)"><text x="0" y="0" font-family="'Liberation Sans', Arial, sans-serif" font-size="12" font-weight="400" fill="#000"  stroke="#000" stroke-width="0.3" text-anchor="start">3</text></g>
<text x="5.4" y="466.6" font-family="'Liberation Serif', 'Times New Roman', serif" font-size="18.5" font-weight="400" fill="#111"  text-anchor="start" textLength="884.9" lengthAdjust="spacingAndGlyphs">Рис. 8.9. Увеличение воздействия респирабельной пыли на рабочих, находящихся внутри предприятия по</text>
<text x="24.2" y="486.3" font-family="'Liberation Serif', 'Times New Roman', serif" font-size="18.5" font-weight="400" fill="#111"  text-anchor="start" textLength="853.5" lengthAdjust="spacingAndGlyphs">переработке минеральных полезных ископаемых, в то время, когда проводилась загрузка материала в</text>
<text x="392.9" y="504.8" font-family="'Liberation Serif', 'Times New Roman', serif" font-size="18.5" font-weight="400" fill="#111"  text-anchor="start" textLength="158.4" lengthAdjust="spacingAndGlyphs">бункер вне здания.</text>
</svg>
</body></html>
